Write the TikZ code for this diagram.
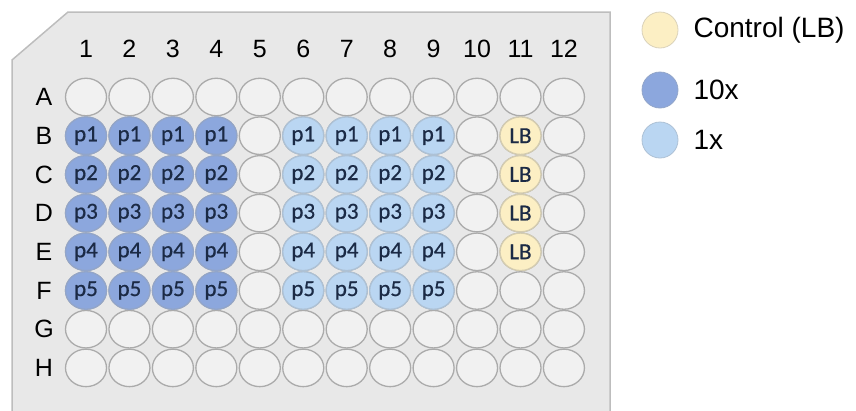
\documentclass[tikz,border=0pt]{standalone}
\usepackage{fontspec}
\setmainfont{Liberation Sans}
\newfontfamily\wellfont[FakeBold=0.6]{Carlito}
\usetikzlibrary{positioning,shapes.geometric}
\definecolor{platebg}{HTML}{E8E8E8}
\definecolor{plateedge}{HTML}{BDBDBD}
\definecolor{wellempty}{HTML}{F1F1F1}
\definecolor{welledge}{HTML}{ABABAB}
\definecolor{tenx}{HTML}{8CA7DD}
\definecolor{onex}{HTML}{BAD6F2}
\definecolor{ctrl}{HTML}{FCEFC4}
\definecolor{welltext}{HTML}{1B2A45}

\begin{document}
\begin{tikzpicture}[x=1pt, y=-1pt,
  font=\fontsize{25}{28}\selectfont,
  well/.style={ellipse, draw=welledge, line width=1.3pt, fill=wellempty,
    minimum width=41pt, minimum height=37.5pt, inner sep=0pt,
    font=\wellfont\fontsize{23}{25}\selectfont, text=welltext},
  hi/.style={well, fill=tenx, draw=tenx!85!black!80},
  lo/.style={well, fill=onex, draw=onex!85!black!85},
  lb/.style={well, fill=ctrl, draw=ctrl!80!black!80},
  key/.style={circle, draw=welledge, line width=0.8pt, minimum size=36pt, inner sep=0pt},
  keytext/.style={right=6pt, inner sep=0pt, anchor=west, font=\fontsize{28}{30}\selectfont}]
\useasboundingbox (0,0) rectangle (856,410);
% plate
\draw[plateedge, fill=platebg, line width=1.5pt]
  (12,414) -- (12,60) -- (68,12) -- (610,12) -- (610,414);
% column and row labels
\foreach \c in {1,...,12}
  \node (col-\c) at ({86+(\c-1)*43.45},49) {\c};
\foreach \r [count=\i] in {A,B,C,D,E,F,G,H}
  \node (row-\r) at (44,{97+(\i-1)*38.7}) {\r};
% wells
\foreach \r [count=\i] in {A,B,C,D,E,F,G,H}
  \foreach \c in {1,...,12}
    \node[well] (w-\r\c) at ({86+(\c-1)*43.45},{97+(\i-1)*38.7}) {};
\foreach \r [count=\i] in {B,C,D,E,F} {
  \foreach \c in {1,...,4}
    \node[hi] at (w-\r\c) {p\i};
  \foreach \c in {6,...,9}
    \node[lo] at (w-\r\c) {p\i};
}
\foreach \r in {B,C,D,E}
  \node[lb] at (w-\r11) {LB};
% legend
\node[key, fill=ctrl, draw=ctrl!80!black!70] (key-ctrl) at (660,30) {};
\node[key, fill=tenx, draw=tenx!85!black!80] (key-hi) at (660,90) {};
\node[key, fill=onex, draw=onex!85!black!85] (key-lo) at (660,140) {};
\node[keytext] (lab-ctrl) at (key-ctrl.east) [xshift=9pt] {Control (LB)};
\node[keytext] (lab-hi) at (key-hi.east) [xshift=9pt] {10x};
\node[keytext] (lab-lo) at (key-lo.east) [xshift=9pt] {1x};
\end{tikzpicture}
\end{document}
